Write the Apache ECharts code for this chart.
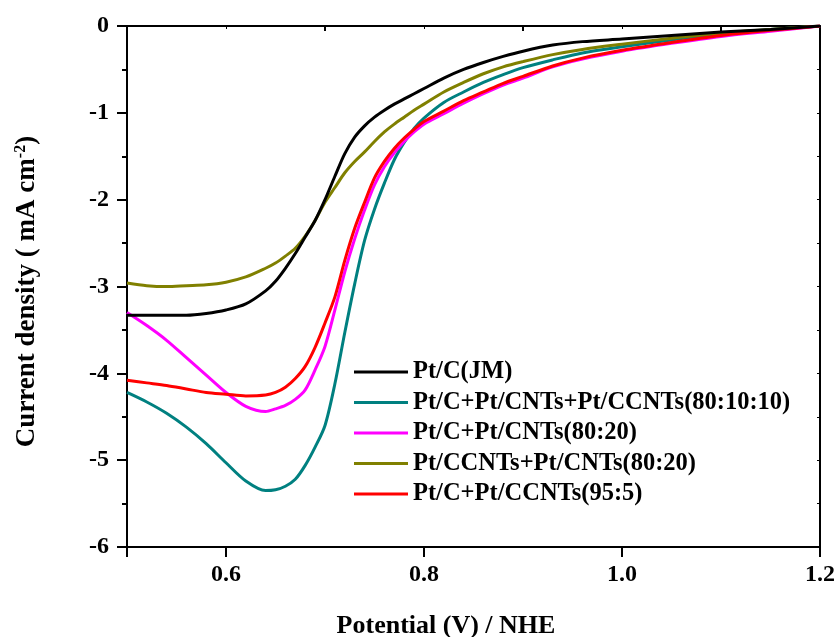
<!DOCTYPE html>
<html>
<head>
<meta charset="utf-8">
<script src="https://cdn.jsdelivr.net/npm/echarts@6/dist/echarts.min.js"></script>
<style>
  html, body { margin: 0; padding: 0; background: #fff; }
  #chart { width: 837px; height: 637px; }
</style>
</head>
<body>
<div id="chart"></div>
<script>
// potential (V vs NHE), shared by all curves
var potential = [0.50, 0.52, 0.54, 0.56, 0.58, 0.60, 0.62, 0.64, 0.65, 0.66, 0.67, 0.68, 0.69, 0.70,
  0.71, 0.72, 0.73, 0.74, 0.75, 0.76, 0.77, 0.78, 0.79, 0.80, 0.82, 0.84, 0.86, 0.88, 0.90,
  0.93, 0.96, 1.00, 1.05, 1.10, 1.15, 1.20];

// current density, mA cm-2
var ptcJM = [-3.33, -3.33, -3.33, -3.33, -3.31, -3.27, -3.20, -3.05, -2.94, -2.79, -2.62, -2.43, -2.24, -2.00,
  -1.73, -1.47, -1.28, -1.15, -1.05, -0.97, -0.90, -0.84, -0.78, -0.72, -0.60, -0.50, -0.42, -0.35, -0.29,
  -0.22, -0.18, -0.15, -0.11, -0.07, -0.04, 0];
var ptcCntsCcnts = [-4.22, -4.33, -4.46, -4.62, -4.81, -5.03, -5.24, -5.35, -5.34, -5.30, -5.22, -5.06, -4.85, -4.60,
  -4.12, -3.53, -2.97, -2.47, -2.11, -1.81, -1.54, -1.34, -1.18, -1.06, -0.88, -0.76, -0.65, -0.56, -0.48,
  -0.39, -0.31, -0.24, -0.16, -0.09, -0.04, 0];
var ptcCnts = [-3.30, -3.45, -3.62, -3.82, -4.02, -4.22, -4.38, -4.44, -4.41, -4.37, -4.30, -4.19, -3.96, -3.69,
  -3.27, -2.83, -2.45, -2.12, -1.83, -1.62, -1.46, -1.33, -1.22, -1.13, -1.01, -0.89, -0.78, -0.68, -0.60,
  -0.47, -0.38, -0.29, -0.20, -0.12, -0.06, 0];
var ccntsCnts = [-2.96, -2.99, -3.00, -2.99, -2.98, -2.95, -2.89, -2.79, -2.73, -2.65, -2.56, -2.42, -2.24, -2.03,
  -1.86, -1.69, -1.56, -1.45, -1.33, -1.22, -1.13, -1.05, -0.97, -0.90, -0.76, -0.65, -0.55, -0.47, -0.41,
  -0.33, -0.27, -0.21, -0.14, -0.08, -0.04, 0];
var ptcCcnts = [-4.08, -4.11, -4.14, -4.18, -4.22, -4.24, -4.26, -4.25, -4.22, -4.16, -4.06, -3.92, -3.70, -3.42,
  -3.12, -2.70, -2.33, -2.03, -1.75, -1.56, -1.41, -1.29, -1.19, -1.10, -0.98, -0.86, -0.76, -0.66, -0.58,
  -0.46, -0.37, -0.28, -0.19, -0.11, -0.05, 0];

var names = ['Pt/C(JM)', 'Pt/C+Pt/CNTs+Pt/CCNTs(80:10:10)', 'Pt/C+Pt/CNTs(80:20)',
  'Pt/CCNTs+Pt/CNTs(80:20)', 'Pt/C+Pt/CCNTs(95:5)'];
var colors = ['#000000', '#008080', '#ff00ff', '#808000', '#ff0000'];
var curves = [ptcJM, ptcCntsCcnts, ptcCnts, ccntsCnts, ptcCcnts];

var xMajor = [0.6, 0.8, 1.0, 1.2];
var xMinor = [0.7, 0.9, 1.1];

var font = 'Liberation Serif, Times New Roman, serif';

function pairs(ys) {
  return potential.map(function (x, i) { return [x, ys[i]]; });
}

var chart = echarts.init(document.getElementById('chart'));

var option = {
  animation: false,
  backgroundColor: '#ffffff',
  grid: { left: 127, top: 26, width: 693, height: 521, containLabel: false, outerBoundsMode: 'none' },
  legend: {
    orient: 'vertical',
    left: 349,
    top: 354,
    icon: 'rect',
    itemWidth: 54,
    itemHeight: 3,
    itemGap: 4.5,
    data: names,
    textStyle: { fontFamily: font, fontWeight: 'bold', fontSize: 24.5, color: '#000', lineHeight: 26 }
  },
  xAxis: [
    {
      type: 'value', position: 'bottom', min: 0.5, max: 1.2,
      name: 'Potential (V) / NHE', nameLocation: 'middle', nameGap: 66,
      nameTextStyle: { fontFamily: font, fontWeight: 'bold', fontSize: 26, color: '#000', padding: [0, 55, 0, 0] },
      axisLine: { onZero: false, lineStyle: { color: '#000', width: 2 } },
      axisTick: { customValues: [0.5].concat(xMajor), length: 10, lineStyle: { color: '#000', width: 2 } },
      axisLabel: {
        customValues: xMajor, margin: 16,
        fontFamily: font, fontWeight: 'bold', fontSize: 24, color: '#000',
        formatter: function (v) { return v.toFixed(1); }
      },
      splitLine: { show: false }
    },
    {
      type: 'value', position: 'bottom', min: 0.5, max: 1.2,
      axisLine: { show: false },
      axisTick: { customValues: xMinor, length: 5, lineStyle: { color: '#000', width: 2 } },
      axisLabel: { show: false },
      splitLine: { show: false }
    },
    {
      type: 'value', position: 'top', min: 0.5, max: 1.2, interval: 0.1,
      axisLine: { onZero: false, lineStyle: { color: '#000', width: 2 } },
      axisTick: { inside: true, length: 3, lineStyle: { color: '#000', width: 1 } },
      axisLabel: { show: false },
      splitLine: { show: false }
    }
  ],
  yAxis: [
    {
      type: 'value', position: 'left', min: -6, max: 0, interval: 1,
      name: '{t|Current density ( mA cm}{s|-2}{t|)}', nameLocation: 'middle', nameGap: 86,
      nameTextStyle: {
        padding: [0, 10, 0, 0],
        rich: {
          t: { fontFamily: font, fontWeight: 'bold', fontSize: 27, color: '#000' },
          s: { fontFamily: font, fontWeight: 'bold', fontSize: 16, color: '#000', verticalAlign: 'top', padding: [0, 0, 12, 0] }
        }
      },
      axisLine: { onZero: false, lineStyle: { color: '#000', width: 2 } },
      axisTick: { length: 10, lineStyle: { color: '#000', width: 2 } },
      minorTick: { show: true, splitNumber: 2, length: 5, lineStyle: { color: '#000', width: 2 } },
      axisLabel: { margin: 18, fontFamily: font, fontWeight: 'bold', fontSize: 24, color: '#000' },
      splitLine: { show: false },
      minorSplitLine: { show: false }
    },
    {
      type: 'value', position: 'right', min: -6, max: 0, interval: 1,
      axisLine: { onZero: false, lineStyle: { color: '#000', width: 2 } },
      axisTick: { inside: true, length: 3, lineStyle: { color: '#000', width: 1 } },
      minorTick: { show: true, splitNumber: 2, length: 3, lineStyle: { color: '#000', width: 1 } },
      axisLabel: { show: false },
      splitLine: { show: false }
    }
  ],
  series: names.map(function (n, i) {
    return {
      name: n,
      type: 'line',
      xAxisIndex: 0,
      yAxisIndex: 0,
      data: pairs(curves[i]),
      showSymbol: false,
      smooth: 0.3,
      color: colors[i],
      lineStyle: { color: colors[i], width: 3 },
      z: i === 2 ? 6 : (i === 0 ? 7 : 2 + i)
    };
  })
};

chart.setOption(option);
</script>
</body>
</html>
